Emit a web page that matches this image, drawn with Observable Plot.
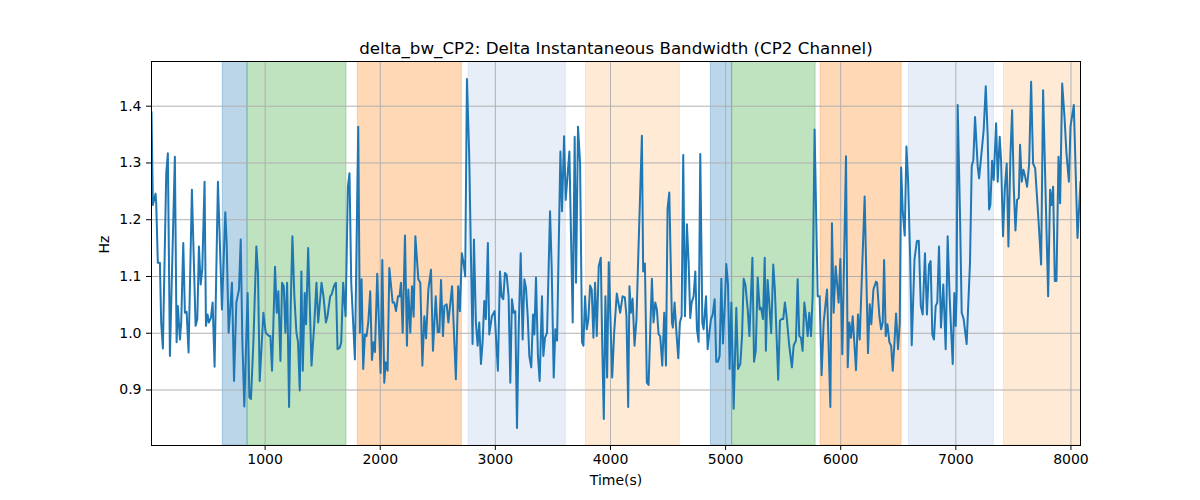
<!DOCTYPE html>
<html>
<head>
<meta charset="utf-8">
<script src="https://cdn.jsdelivr.net/npm/d3@7"></script>
<script src="https://cdn.jsdelivr.net/npm/@observablehq/plot@0.6"></script>
<style>
  html, body { margin: 0; padding: 0; background: #fff; }
  #chart { width: 1200px; height: 500px; }
  svg { font-family: "DejaVu Sans", sans-serif; }
</style>
</head>
<body>
<div id="chart"></div>
<script>
const chartTitle = "delta_bw_CP2: Delta Instantaneous Bandwidth (CP2 Channel)";
const xLabel = "Time(s)";
const yLabel = "Hz";

const time = [
  13,25,48,54,68,86,97,112,141,155,173,216,231,242,260,271,289,303,318,335,364,396,411,425,440,454,474,486,500,512,529,544,561,590,625,654,666,683,712,730,750,773,788,802,819,848,863,877,898,924,938,953,985,1005,1034,1046,1060,1086,1101,1115,1133,1147,1162,1176,1191,1208,1223,1237,1254,1272,1286,1301,1315,1327,1344,1356,
  1374,1403,1426,1446,1461,1490,1507,1528,1542,1565,1577,1600,1615,1629,1649,1661,1678,1699,1719,1733,1748,1780,1809,1823,1838,1852,1867,1881,1896,1913,1928,1942,1954,1974,2003,2018,2035,2047,2064,2079,2108,2122,2137,2154,2168,2180,2195,2215,2232,2244,2261,2276,2290,2305,2331,2348,2366,2383,2398,2418,2441,2458,2482,2499,2514,2528,2545,2557,2577,2592,2624,
  2657,2677,2692,2709,2724,2738,2753,2773,2788,2802,2814,2831,2846,2860,2875,2889,2904,2918,2935,2947,2970,2993,3022,3040,3054,3069,3083,3098,3115,3130,3144,3159,3173,3188,3202,3220,3237,3252,3266,3281,3295,3312,3327,3339,3353,3370,3385,3405,3417,3431,3449,3475,3489,3507,3521,3536,3565,3579,3597,3611,3643,3672,3689,3701,3718,3736,3753,3765,3779,3794,3808,3823,3837,3852,3866,3881,3898,3916,3927,3942,3956,3971,3985,
  4015,4032,4055,4084,4105,4125,4139,4154,4165,4177,4192,4209,4226,4238,4273,4284,4299,4316,4331,4345,4360,4374,4389,4403,4418,4432,4450,4467,4482,4496,4511,4534,4542,4557,4574,4589,4603,4618,4632,4647,4664,4679,4693,4705,4722,4737,4751,4766,4780,4798,4809,4830,4844,4859,4873,4888,4905,4919,4934,4948,4963,4977,4995,5006,5021,5035,5050,5070,5093,5108,5128,5143,5157,5172,5192,5207,5233,5247,5262,5279,5296,5308,5325,5340,
  5350,5365,5379,5396,5414,5428,5457,5472,5486,5501,5515,5530,5553,5576,5591,5611,5626,5640,5655,5669,5684,5698,5713,5727,5742,5756,5773,5800,5817,5834,5852,5881,5910,5924,5939,5956,5982,5997,6014,6046,6061,6075,6090,6104,6133,6150,6165,6208,6237,6252,6266,6284,6307,6316,6336,6351,6365,6377,6391,6406,6423,6438,6452,6467,6481,6498,6513,6525,6539,6556,6571,6585,6603,6617,6641,6661,6678,6696,
  6712,6732,6749,6767,6781,6796,6810,6825,6839,6854,6871,6891,6912,6929,6946,6958,6973,6987,6999,7007,7016,7036,7051,7068,7094,7123,7138,7152,7167,7190,7202,7242,7260,7277,7289,7300,7315,7329,7350,7364,7381,7393,7410,7425,7442,7457,7474,7489,7503,7518,7532,7547,7558,7573,7587,7599,7619,7637,7654,7671,7689,7718,7741,7758,7779,7802,7819,7831,7845,7860,7874,7892,7906,7924,7944,7961,7982,7996,8025,8057,8083
];

const bw = [
  1.390,1.226,1.246,1.229,1.124,1.124,1.019,0.973,1.282,1.317,0.960,1.311,0.984,1.048,0.989,1.019,1.159,1.036,1.038,0.966,1.253,1.013,1.025,1.153,1.086,1.112,1.267,1.013,1.033,1.019,1.027,1.054,0.941,1.267,1.042,1.213,1.159,1.001,1.089,0.916,1.054,1.077,1.165,0.989,0.871,1.071,0.887,0.884,0.984,1.153,1.106,0.916,1.036,1.001,0.995,0.995,0.934,1.117,1.036,1.074,0.951,1.089,1.083,1.001,1.089,0.870,1.054,1.171,1.065,1.001,0.984,0.899,1.109,0.934,1.071,1.016,
  1.150,0.943,1.013,1.089,1.019,1.089,1.065,1.019,1.030,1.065,1.068,1.084,1.089,0.972,0.975,0.984,1.089,1.030,1.258,1.282,1.089,0.954,1.364,1.001,1.095,0.937,0.998,0.995,1.019,1.074,0.953,0.984,0.967,1.105,0.930,1.129,0.913,0.949,0.934,1.115,1.054,1.054,1.039,1.065,1.065,1.089,1.001,1.172,0.978,1.077,1.001,1.083,1.029,1.171,1.095,1.089,0.943,1.030,0.991,1.077,1.112,0.969,1.065,1.002,1.002,1.094,0.995,1.048,1.051,1.019,1.083,
  0.919,1.083,1.039,1.141,1.124,1.100,1.448,1.311,1.136,0.981,1.165,1.019,0.978,1.019,0.946,0.984,1.057,1.025,1.159,0.998,1.030,1.039,0.934,1.109,1.065,1.060,1.106,1.103,1.065,0.913,1.060,1.036,1.039,0.833,1.001,1.141,0.989,1.095,1.080,1.030,0.960,0.940,1.033,0.998,1.098,0.960,0.916,1.065,0.960,0.992,1.001,1.215,1.118,0.922,1.007,0.987,1.320,1.215,1.347,1.235,1.320,1.019,1.346,1.089,1.364,1.299,0.984,0.978,1.065,1.007,1.025,1.084,1.077,0.992,1.089,0.995,1.118,1.133,0.995,0.849,1.065,0.922,1.125,
  0.922,1.001,1.070,1.036,1.065,1.063,1.030,0.870,1.083,1.036,1.061,0.978,1.025,1.112,1.348,1.109,1.123,0.913,0.909,1.001,1.096,1.019,1.054,1.042,0.998,0.995,0.943,1.036,0.943,1.220,1.248,1.019,1.010,1.054,0.998,0.956,1.019,1.030,1.314,1.030,1.192,1.124,1.027,1.054,1.065,1.109,1.007,0.985,1.316,1.019,1.007,1.065,0.972,1.001,1.025,1.033,1.060,0.950,0.950,0.960,1.096,0.982,1.060,1.122,1.086,0.937,1.054,0.867,1.045,0.937,0.946,0.995,1.096,1.086,1.042,0.995,1.133,0.950,0.969,1.098,1.042,1.045,1.025,1.133,
  0.969,1.094,1.054,1.000,1.121,1.077,0.918,1.022,1.025,1.025,1.054,1.030,0.978,0.940,0.978,0.987,1.095,0.995,0.992,0.969,1.054,1.030,0.995,1.036,0.995,1.065,1.359,1.065,1.065,0.926,1.019,1.077,0.870,1.194,1.036,1.118,1.054,1.131,0.963,1.312,0.940,1.019,0.992,1.030,0.935,1.033,0.989,1.241,0.965,1.051,1.016,1.077,1.091,1.089,1.030,1.007,1.019,1.129,0.995,1.016,0.984,0.978,0.934,0.984,1.035,0.972,1.018,1.292,1.215,1.172,1.329,1.270,1.136,0.979,1.130,1.162,1.163,1.048,
  1.033,1.141,1.033,1.121,1.127,0.998,0.989,1.048,1.054,1.153,1.010,1.086,0.972,1.171,1.065,1.010,0.946,1.071,1.013,1.071,1.402,1.212,1.036,1.025,0.981,1.124,1.294,1.305,1.381,1.294,1.273,1.358,1.435,1.346,1.218,1.226,1.304,1.270,1.370,1.267,1.346,1.305,1.171,1.253,1.299,1.153,1.311,1.393,1.258,1.181,1.235,1.238,1.332,1.267,1.288,1.279,1.258,1.299,1.443,1.299,1.291,1.200,1.121,1.428,1.253,1.065,1.253,1.226,1.258,1.092,1.092,1.311,1.229,1.440,1.381,1.317,1.267,1.364,1.402,1.168,1.267
];

const bandStart = [632, 847, 1805, 2767, 3786, 4872, 5057, 5825, 6593, 7418];
const bandEnd   = [847, 1707, 2709, 3612, 4603, 5057, 5782, 6529, 7331, 8100];
const bandColor = ["#1f77b4", "#2ca02c", "#ff7f0e", "#aec7e8", "#ffbb78",
                   "#1f77b4", "#2ca02c", "#ff7f0e", "#aec7e8", "#ffbb78"];

const xTicks = [1000, 2000, 3000, 4000, 5000, 6000, 7000, 8000];
const yTicks = [0.9, 1.0, 1.1, 1.2, 1.3, 1.4];

const series = time.map((t, i) => ({t, v: bw[i]}));
const bands = bandStart.map((s, i) => ({x1: s, x2: bandEnd[i], c: bandColor[i]}));

const [vMin, vMax] = d3.extent(bw);
const pad = (vMax - vMin) * 0.05;
const xDomain = d3.extent(time);

const FONT = "DejaVu Sans";

const chart = Plot.plot({
  width: 1200,
  height: 500,
  marginLeft: 151,
  marginRight: 120,
  marginTop: 61,
  marginBottom: 55,
  style: {fontFamily: FONT, background: "#fff", color: "#000"},
  x: {domain: xDomain},
  y: {domain: [vMin - pad, vMax + pad]},
  marks: [
    Plot.rect(bands, {x1: "x1", x2: "x2", fill: "c", fillOpacity: 0.3, stroke: "c", strokeOpacity: 0.3, strokeWidth: 1, clip: true}),
    Plot.gridX(xTicks, {stroke: "#b0b0b0", strokeOpacity: 1, strokeWidth: 1}),
    Plot.gridY(yTicks, {stroke: "#b0b0b0", strokeOpacity: 1, strokeWidth: 1}),
    Plot.line(series, {x: "t", y: "v", stroke: "#1f77b4", strokeWidth: 2, clip: true}),
    Plot.frame({stroke: "#000", strokeWidth: 1}),
    Plot.axisX(xTicks, {tickSize: 5, tickPadding: 4, fontSize: 14, label: null, tickFormat: d3.format("d"), stroke: "#000"}),
    Plot.axisY(yTicks, {tickSize: 5, tickPadding: 5, fontSize: 14, label: null, tickFormat: d3.format(".1f"), stroke: "#000"}),
    Plot.text([xLabel], {frameAnchor: "bottom", dy: 39, fontSize: 14, fill: "#000"}),
    Plot.text([yLabel], {frameAnchor: "left", dx: -47, rotate: -90, fontSize: 14, fill: "#000"}),
    Plot.text([chartTitle], {frameAnchor: "top", dy: -19, fontSize: 16.7, fill: "#000"})
  ]
});
document.getElementById("chart").appendChild(chart);
</script>
</body>
</html>
